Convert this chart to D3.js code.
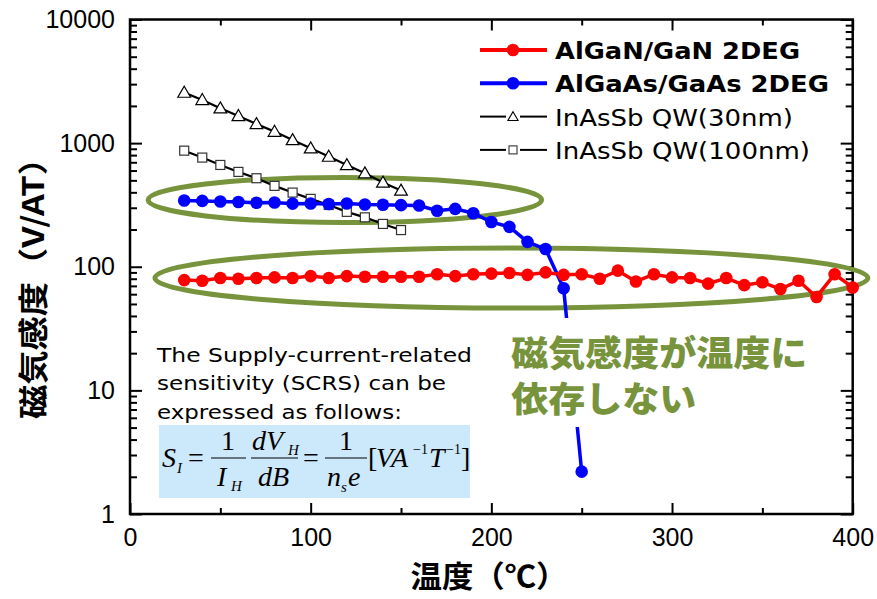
<!DOCTYPE html>
<html>
<head>
<meta charset="utf-8">
<script src="https://cdn.jsdelivr.net/npm/d3@7"></script>
<style>
  body { margin: 0; background: #fff; }
  svg { display: block; }
</style>
</head>
<body>
<svg width="877" height="599"></svg>
<script>
// temperatures (°C)
const tempGaN = [30, 40, 50, 60, 70, 80, 90, 100, 110, 120, 130, 140, 150, 160, 170, 180, 190, 200, 210, 220,
  230, 240, 250, 260, 270, 280, 290, 300, 310, 320, 330, 340, 350, 360, 370, 380, 390, 400];
const tempGaAs = [30, 40, 50, 60, 70, 80, 90, 100, 110, 120, 130, 140, 150, 160, 170, 180, 190, 200, 210, 220,
  230, 240, 250];
const tempInAsSb = [30, 40, 50, 60, 70, 80, 90, 100, 110, 120, 130, 140, 150];

// sensitivity (V/AT)
const sGaN = [78, 77, 81, 80, 81, 82, 81, 84, 81, 84, 83, 83, 83, 83, 87, 84, 87, 88, 89, 86,
  90, 86, 87, 80, 93, 76, 87, 82, 81, 73, 81, 71, 75, 66, 77, 57, 87, 68];
const sGaAs = [343, 341, 337, 334, 329, 331, 324, 325, 322, 325, 319, 317, 315, 313, 284, 294, 271, 230, 210, 159,
  139, 67, 2.2];
const sQW30 = [2563, 2237, 1916, 1660, 1430, 1239, 1061, 909, 778, 666, 571, 481, 414];
const sQW100 = [869, 764, 666, 585, 520, 451, 398, 354, 316, 278, 251, 222, 198];

const seriesNames = ["AlGaN/GaN 2DEG", "AlGaAs/GaAs 2DEG", "InAsSb QW(30nm)", "InAsSb QW(100nm)"];
const xTicks = [0, 100, 200, 300, 400];
const yTicks = [1, 10, 100, 1000, 10000];

const green = "#77933C";
const jp = "'Noto Sans CJK JP', 'Noto Sans', sans-serif";
const dv = "'DejaVu Sans', sans-serif";

const svg = d3.select("svg");
const x = d3.scaleLinear().domain([0, 400]).range([130, 852.7]);
const y = d3.scaleLog().domain([1, 10000]).range([514, 19.5]);

const series = [
  { name: seriesNames[0], t: tempGaN, v: sGaN, color: "#ff0000", shape: "dot", bold: true },
  { name: seriesNames[1], t: tempGaAs, v: sGaAs, color: "#0000ff", shape: "dot", bold: true },
  { name: seriesNames[2], t: tempInAsSb, v: sQW30, color: "#000", shape: "tri", bold: false },
  { name: seriesNames[3], t: tempInAsSb, v: sQW100, color: "#000", shape: "sq", bold: false }
];

// axes (ticks point inward)
const minorY = [];
yTicks.slice(0, -1).forEach((d) => { for (let k = 2; k < 10; k++) minorY.push(d * k); });
const minorX = [50, 150, 250, 350];

const axisG = svg.append("g").attr("class", "axes");
axisG.append("g").attr("transform", "translate(0,514)")
  .call(d3.axisBottom(x).tickValues(xTicks).tickSizeInner(-11).tickSizeOuter(0).tickPadding(14).tickFormat(d3.format("d")));
axisG.append("g").attr("transform", "translate(0,514)")
  .call(d3.axisBottom(x).tickValues(minorX).tickSizeInner(-6).tickSizeOuter(0).tickFormat(""));
axisG.append("g").attr("transform", "translate(0,19.5)")
  .call(d3.axisTop(x).tickValues(xTicks).tickSizeInner(-11).tickSizeOuter(0).tickFormat(""));
axisG.append("g").attr("transform", "translate(0,19.5)")
  .call(d3.axisTop(x).tickValues(minorX).tickSizeInner(-6).tickSizeOuter(0).tickFormat(""));
axisG.append("g").attr("transform", "translate(130,0)")
  .call(d3.axisLeft(y).tickValues(yTicks).tickSizeInner(-12).tickSizeOuter(0).tickPadding(15).tickFormat(d3.format("d")));
axisG.append("g").attr("transform", "translate(130,0)")
  .call(d3.axisLeft(y).tickValues(minorY).tickSizeInner(-7).tickSizeOuter(0).tickFormat(""));
axisG.append("g").attr("transform", "translate(852.7,0)")
  .call(d3.axisRight(y).tickValues(yTicks).tickSizeInner(-12).tickSizeOuter(0).tickFormat(""));
axisG.append("g").attr("transform", "translate(852.7,0)")
  .call(d3.axisRight(y).tickValues(minorY).tickSizeInner(-7).tickSizeOuter(0).tickFormat(""));

axisG.selectAll(".domain").remove();
axisG.selectAll(".tick line").attr("stroke", "#000").attr("stroke-width", 2);
axisG.selectAll(".tick text")
  .attr("fill", "#000")
  .style("font", "25px 'Liberation Sans', Arial, sans-serif");

svg.append("rect")
  .attr("x", 130).attr("y", 19.5)
  .attr("width", 852.7 - 130).attr("height", 514 - 19.5)
  .attr("fill", "none").attr("stroke", "#000").attr("stroke-width", 2.5);

// axis titles
svg.append("text")
  .attr("transform", "translate(44,280) rotate(-90)")
  .attr("text-anchor", "middle")
  .style("font", `bold 30px ${jp}`)
  .attr("textLength", 278)
  .attr("lengthAdjust", "spacingAndGlyphs")
  .text("磁気感度（V/AT）");
svg.append("text")
  .attr("x", 489).attr("y", 587)
  .attr("text-anchor", "middle")
  .style("font", `bold 30px ${jp}`)
  .attr("textLength", 157)
  .attr("lengthAdjust", "spacingAndGlyphs")
  .text("温度（℃）");

// annotation ellipses
const ellipses = [
  { t0: 10, t1: 227.8, v0: 228, v1: 528 },
  { t0: 13.8, t1: 408.4, v0: 46.4, v1: 142 }
];
svg.append("g").selectAll("ellipse")
  .data(ellipses)
  .join("ellipse")
  .attr("cx", (d) => (x(d.t0) + x(d.t1)) / 2)
  .attr("cy", (d) => (y(d.v0) + y(d.v1)) / 2)
  .attr("rx", (d) => (x(d.t1) - x(d.t0)) / 2)
  .attr("ry", (d) => (y(d.v0) - y(d.v1)) / 2)
  .attr("fill", "none")
  .attr("stroke", green)
  .attr("stroke-width", 5);

// series
const line = d3.line().x((d) => x(d[0])).y((d) => y(d[1]));
const triPath = d3.symbol(d3.symbolTriangle, 70)();

const plot = svg.append("g");
[series[3], series[2], series[1], series[0]].forEach((s) => {
  const pts = s.t.map((t, i) => [t, s.v[i]]);
  const g = plot.append("g");
  g.append("path")
    .attr("d", line(pts))
    .attr("fill", "none")
    .attr("stroke", s.color)
    .attr("stroke-width", s.shape === "dot" ? 3.5 : 2.2);
  if (s.shape === "dot") {
    g.selectAll("circle").data(pts).join("circle")
      .attr("cx", (d) => x(d[0])).attr("cy", (d) => y(d[1]))
      .attr("r", 6.3).attr("fill", s.color);
  } else if (s.shape === "tri") {
    g.selectAll("path.m").data(pts).join("path").attr("class", "m")
      .attr("d", triPath)
      .attr("transform", (d) => `translate(${x(d[0])},${y(d[1]) + 1})`)
      .attr("fill", "#fff").attr("stroke", "#000").attr("stroke-width", 1.2);
  } else {
    g.selectAll("rect").data(pts).join("rect")
      .attr("x", (d) => x(d[0]) - 4.5).attr("y", (d) => y(d[1]) - 4.5)
      .attr("width", 9).attr("height", 9)
      .attr("fill", "#fff").attr("stroke", "#333").attr("stroke-width", 1.2);
  }
});

// green annotation text (white backing hides the line behind it)
const note = svg.append("g").attr("transform", `translate(${x(211)},0)`);
note.append("rect")
  .attr("x", -4).attr("y", 318).attr("width", 308).attr("height", 109)
  .attr("fill", "#fff");
note.selectAll("text").data(["磁気感度が温度に", "依存しない"]).join("text")
  .attr("x", 0).attr("y", (d, i) => 366 + i * 46)
  .attr("fill", green)
  .style("font", `900 35px ${jp}`)
  .attr("textLength", (d) => d.length * 37)
  .attr("lengthAdjust", "spacingAndGlyphs")
  .text((d) => d);

// legend
const legend = svg.append("g");
series.forEach((s, i) => {
  const ly = 50 + i * 33.3;
  const g = legend.append("g").attr("transform", `translate(0,${ly})`);
  if (s.shape === "dot") {
    g.append("line").attr("x1", 480).attr("x2", 547).attr("stroke", s.color).attr("stroke-width", 4);
    g.append("circle").attr("cx", 513).attr("r", 6.3).attr("fill", s.color);
  } else {
    g.append("line").attr("x1", 480).attr("x2", 506).attr("stroke", "#000").attr("stroke-width", 2);
    g.append("line").attr("x1", 520).attr("x2", 547).attr("stroke", "#000").attr("stroke-width", 2);
    if (s.shape === "tri") {
      g.append("path").attr("d", d3.symbol(d3.symbolTriangle, 45)())
        .attr("transform", "translate(513,1)")
        .attr("fill", "#fff").attr("stroke", "#000").attr("stroke-width", 1.1);
    } else {
      g.append("rect").attr("x", 509).attr("y", -4).attr("width", 8).attr("height", 8)
        .attr("fill", "#fff").attr("stroke", "#333").attr("stroke-width", 1.1);
    }
  }
  g.append("text")
    .attr("x", 555).attr("y", 9)
    .style("font", s.bold ? `bold 23px ${dv}` : `23px ${dv}`)
    .attr("textLength", [245, 274, 238, 255][i])
    .attr("lengthAdjust", "spacingAndGlyphs")
    .text(s.name);
});

// SCRS description
const desc = svg.append("g");
desc.selectAll("text")
  .data(["The Supply-current-related", "sensitivity (SCRS) can be", "expressed as follows:"])
  .join("text")
  .attr("x", 157).attr("y", (d, i) => 362 + i * 28.3)
  .style("font", `20px ${dv}`)
  .attr("textLength", (d, i) => [315, 289, 245][i])
  .attr("lengthAdjust", "spacingAndGlyphs")
  .text((d) => d);

desc.append("rect")
  .attr("x", 159).attr("y", 425).attr("width", 311).attr("height", 73)
  .attr("fill", "#cce9fb");

const f = desc.append("g").style("font-family", "'Liberation Serif', 'Times New Roman', serif").style("font-size", "28px");
const ft = (tx, ty, txt, opts = {}) => f.append("text")
  .attr("x", tx).attr("y", ty)
  .attr("text-anchor", opts.anchor || "start")
  .style("font-style", opts.italic === false ? "normal" : "italic")
  .style("font-size", opts.size || null)
  .text(txt);
const fbar = (x1, x2) => f.append("line").attr("x1", x1).attr("x2", x2).attr("y1", 458).attr("y2", 458)
  .attr("stroke", "#000").attr("stroke-width", 1.2);

ft(162, 467, "S");
ft(177, 473, "I", { size: "15px" });
ft(188, 467, "=", { italic: false });
ft(228, 450, "1", { anchor: "middle", italic: false });
fbar(211, 246);
ft(217, 486, "I");
ft(231, 491, "H", { size: "15px" });
ft(252, 450, "dV");
ft(288, 455, "H", { size: "15px" });
fbar(251, 298);
ft(258, 486, "dB");
ft(303, 467, "=", { italic: false });
ft(346, 450, "1", { anchor: "middle", italic: false });
fbar(325, 367);
ft(327, 486, "n");
ft(341, 492, "s", { size: "15px" });
ft(348, 486, "e");
ft(368, 467, "[", { italic: false });
ft(376, 467, "VA");
ft(413, 454, "−1", { italic: false, size: "14px" });
ft(429, 467, "T");
ft(446, 454, "−1", { italic: false, size: "14px" });
ft(461, 467, "]", { italic: false });
</script>
</body>
</html>
